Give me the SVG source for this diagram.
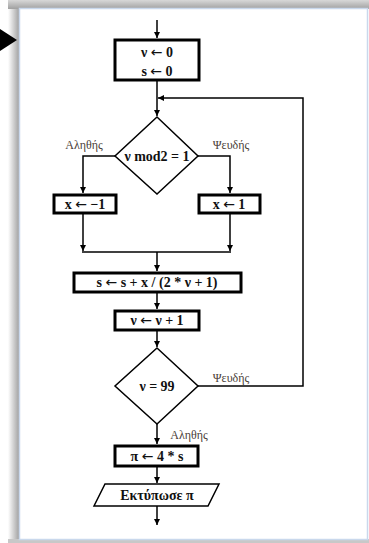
<svg xmlns="http://www.w3.org/2000/svg" width="369" height="543" viewBox="0 0 369 543">
<defs>
<linearGradient id="gl" x1="0" y1="0" x2="1" y2="0"><stop offset="0" stop-color="#ffffff"/><stop offset="1" stop-color="#9a9a9a"/></linearGradient>
<linearGradient id="gt" x1="0" y1="0" x2="0" y2="1"><stop offset="0" stop-color="#d8d8d8"/><stop offset="1" stop-color="#a0a0a0"/></linearGradient>
<marker id="ah" viewBox="0 0 10 10" refX="10" refY="5" markerWidth="6" markerHeight="6" markerUnits="userSpaceOnUse" orient="auto"><path d="M0,0 L10,5 L0,10 z" fill="#000"/></marker>
<style>
.box{fill:#fff;stroke:#000;stroke-width:3}
.dia{fill:#fff;stroke:#000;stroke-width:1.5}
.ln{fill:none;stroke:#000;stroke-width:1.5}
.t{font-family:"Liberation Serif","Times New Roman",serif;font-weight:bold;font-size:14px;fill:#111;text-anchor:middle}
.ar{font-family:"DejaVu Sans",sans-serif;font-weight:normal}
.lb{font-family:"Liberation Serif","Times New Roman",serif;font-size:12px;fill:#4a4038;text-anchor:middle}
</style>
</defs>
<rect x="0" y="0" width="369" height="543" fill="#fff"/>
<rect x="8" y="0" width="12" height="543" fill="url(#gl)"/>
<rect x="8" y="0" width="361" height="9" fill="url(#gt)"/>
<rect x="8" y="539" width="361" height="4" fill="#c8c8c8"/>
<rect x="19.5" y="8.5" width="348" height="531" fill="#fff" stroke="#c9d8ec" stroke-width="1.5"/>
<polygon points="0,29 17,40 0,51" fill="#000"/>
<g id="connectors">
<line class="ln" x1="157" y1="20" x2="157" y2="38" marker-end="url(#ah)"/>
<line class="ln" x1="157" y1="80" x2="157" y2="116" marker-end="url(#ah)"/>
<polyline class="ln" points="198,386 303,386 303,98 158,98" marker-end="url(#ah)"/>
<polyline class="ln" points="115,156 83,156 83,193" marker-end="url(#ah)"/>
<polyline class="ln" points="198,156 230,156 230,193" marker-end="url(#ah)"/>
<line class="ln" x1="83" y1="213" x2="83" y2="251" marker-end="url(#ah)"/>
<line class="ln" x1="230" y1="213" x2="230" y2="251" marker-end="url(#ah)"/>
<line class="ln" x1="82" y1="252" x2="231" y2="252"/>
<line class="ln" x1="157" y1="252" x2="157" y2="271" marker-end="url(#ah)"/>
<line class="ln" x1="157" y1="292" x2="157" y2="309" marker-end="url(#ah)"/>
<line class="ln" x1="157" y1="330" x2="157" y2="347" marker-end="url(#ah)"/>
<line class="ln" x1="157" y1="424" x2="157" y2="444" marker-end="url(#ah)"/>
<line class="ln" x1="157" y1="466" x2="157" y2="483" marker-end="url(#ah)"/>
<line class="ln" x1="157" y1="506" x2="157" y2="525" marker-end="url(#ah)"/>
<text class="lb" x="84" y="149">Αληθής</text>
<text class="lb" x="231" y="149">Ψευδής</text>
<text class="lb" x="231" y="382">Ψευδής</text>
<text class="lb" x="189" y="439">Αληθής</text>
</g>
<g id="init">
<rect class="box" x="115" y="40" width="84" height="40"/>
<text class="t" x="157" y="57">ν <tspan class="ar">←</tspan> 0</text>
<text class="t" x="157" y="76">s <tspan class="ar">←</tspan> 0</text>
</g>
<g id="cond1">
<polygon class="dia" points="157,117 198,156 157,194 115,156"/>
<text class="t" x="157" y="161" font-size="13">ν mod2 = 1</text>
</g>
<g id="xneg">
<rect class="box" x="54" y="195" width="62" height="18"/>
<text class="t" x="85" y="209">x <tspan class="ar">←</tspan> −1</text>
</g>
<g id="xpos">
<rect class="box" x="199" y="195" width="61" height="18"/>
<text class="t" x="229" y="209">x <tspan class="ar">←</tspan> 1</text>
</g>
<g id="sum">
<rect class="box" x="74" y="273" width="167" height="19"/>
<text class="t" x="157" y="287" font-size="13">s <tspan class="ar">←</tspan> s + x / (2 * ν + 1)</text>
</g>
<g id="inc">
<rect class="box" x="115" y="311" width="84" height="19"/>
<text class="t" x="157" y="325">ν <tspan class="ar">←</tspan> ν + 1</text>
</g>
<g id="cond2">
<polygon class="dia" points="157,348 198,386 157,424 115,386"/>
<text class="t" x="157" y="391">ν = 99</text>
</g>
<g id="pi">
<rect class="box" x="115" y="446" width="83" height="20"/>
<text class="t" x="157" y="461">π <tspan class="ar">←</tspan> 4 * s</text>
</g>
<g id="print">
<polygon class="dia" points="105,484 219,484 208,506 94,506"/>
<text class="t" x="157" y="500">Εκτύπωσε π</text>
</g>
</svg>
